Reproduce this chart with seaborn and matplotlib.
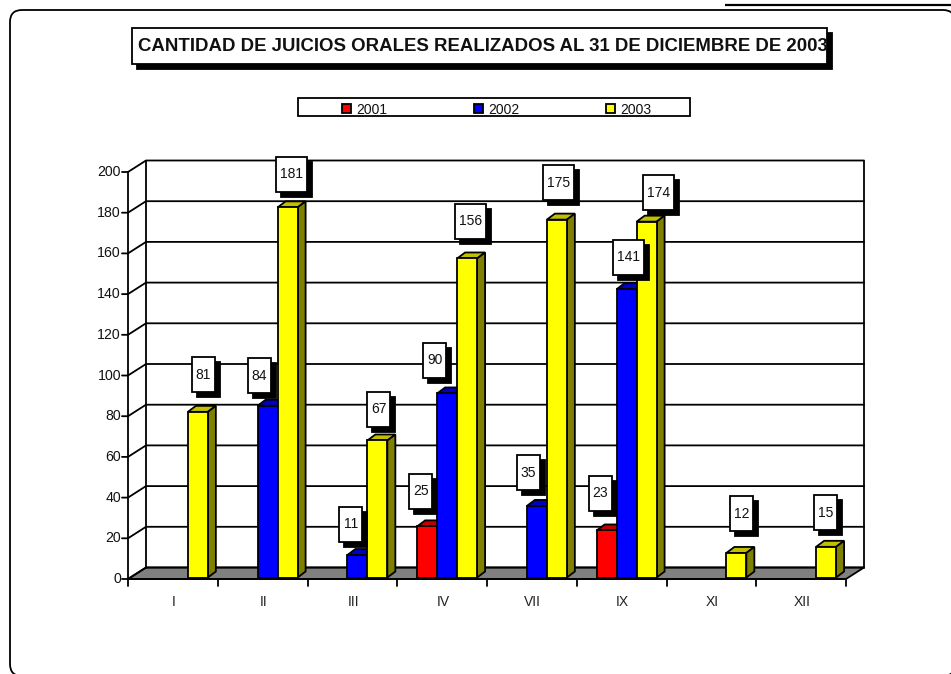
import matplotlib
matplotlib.use("Agg")
import matplotlib.pyplot as plt
from matplotlib.patches import Rectangle, Polygon, FancyBboxPatch
import pandas as pd
import seaborn as sns

# Data
categories = ["I", "II", "III", "IV", "VII", "IX", "XI", "XII"]
years = ["2001", "2002", "2003"]
values_2001 = [None, None, None, 25, None, 23, None, None]
values_2002 = [None, 84, 11, 90, 35, 141, None, None]
values_2003 = [81, 181, 67, 156, 175, 174, 12, 15]
y_ticks = [0, 20, 40, 60, 80, 100, 120, 140, 160, 180, 200]

# Hand placed label boxes: (year, category) -> box centre offset from bar top, in pixels
label_offsets = {
    ("2003", "I"): (5, -37), ("2002", "II"): (-9, -30), ("2003", "II"): (3, -33),
    ("2002", "III"): (-7, -31), ("2003", "III"): (1, -31), ("2001", "IV"): (-7, -35),
    ("2002", "IV"): (-13, -33), ("2003", "IV"): (3, -37), ("2002", "VII"): (-9, -33),
    ("2003", "VII"): (1, -37), ("2001", "IX"): (-7, -37), ("2002", "IX"): (1, -32),
    ("2003", "IX"): (11, -29), ("2003", "XI"): (5, -39), ("2003", "XII"): (-1, -34),
}

front_colors = {"2001": "#FF0000", "2002": "#0000FF", "2003": "#FFFF00"}
top_colors = {"2001": "#C00000", "2002": "#0000C0", "2003": "#C0C000"}
side_colors = {"2001": "#800000", "2002": "#000080", "2003": "#808000"}

W, H = 951, 674
LW = 1.3

# Build the long table, missing bars are just left out
rows = []
for year, vals in zip(years, [values_2001, values_2002, values_2003]):
    for cat, v in zip(categories, vals):
        if v is not None:
            rows.append({"cat": cat, "year": year, "value": v})
df = pd.DataFrame(rows)

sns.set_theme(style="white")
plt.rcParams["font.family"] = ["Liberation Sans", "DejaVu Sans"]

fig = plt.figure(figsize=(W / 100, H / 100), dpi=100, facecolor="white")


def pixel_axes(zorder):
    a = fig.add_axes([0, 0, 1, 1], zorder=zorder)
    a.set_xlim(0, W)
    a.set_ylim(H, 0)
    a.axis("off")
    return a


back = pixel_axes(0)
front = pixel_axes(2)

# Chart axes sit on the front of the floor, bars are 5px right of the category centre
ax = fig.add_axes([133 / W, (H - 577.5) / H, 718 / W, 409 / H], zorder=1)
ax.patch.set_alpha(0)
sns.barplot(data=df, x="cat", y="value", hue="year", order=categories, hue_order=years,
            palette=front_colors, width=0.668, gap=0, dodge=True, saturation=1,
            edgecolor="black", linewidth=LW, legend=False, errorbar=None, ax=ax)
ax.set_xlim(-0.5, len(categories) - 0.5)
ax.set_ylim(0, 200)
ax.axis("off")

# Outer frame runs off the right and bottom of the picture, plus the stray line at the top right
back.add_patch(FancyBboxPatch((10, 10), 945, 666, boxstyle="round,pad=0,rounding_size=12",
                              fc="white", ec="black", lw=LW))
back.plot([725, W], [5, 5], color="black", lw=1.6, solid_capstyle="butt")

# Walls and floor
x0, x1 = 128, 846
dx, dy = 18, -11.5
y_zero, y_scale = 579, 2.035
back.add_patch(Polygon([(x0, y_zero), (x0 + dx, y_zero + dy), (x1 + dx, y_zero + dy), (x1, y_zero)],
                       fc="#808080", ec="black", lw=LW))
for t in y_ticks:
    yf = y_zero - t * y_scale
    back.plot([x0 - 6, x0, x0 + dx, x1 + dx], [yf, yf, yf + dy, yf + dy], color="black", lw=LW)
    back.text(x0 - 7, yf, str(t), ha="right", va="center", fontsize=10.2, color="#111111")
y_top = y_zero - 200 * y_scale
back.plot([x0, x0], [y_zero, y_top], color="black", lw=LW)
back.plot([x0 + dx, x0 + dx], [y_zero + dy, y_top + dy], color="black", lw=LW)
back.plot([x1 + dx, x1 + dx], [y_zero + dy, y_top + dy], color="black", lw=LW)
back.plot([x0, x1], [y_zero, y_zero], color="black", lw=LW)

# Category ticks and labels
step = (x1 - x0) / len(categories)
for i, cat in enumerate(categories):
    back.plot([x0 + i * step] * 2, [y_zero, y_zero + 7], color="black", lw=LW)
    back.text(x0 + (i + 0.5) * step + 1, 602, cat, ha="center", va="center", fontsize=10, color="#222222")
back.plot([x1, x1], [y_zero, y_zero + 7], color="black", lw=LW)

# 3D faces and value labels, taken from the bars seaborn drew
fig.canvas.draw()
bar_dx, bar_dy = 8, -6
hue_bars = []
for container, year in zip(ax.containers, years):
    for bar in container:
        if bar.get_height() > 0:
            cat_i = int(round(bar.get_x() + bar.get_width() / 2))
            hue_bars.append((year, categories[cat_i], bar))

for year, cat, bar in hue_bars:
    (xa, ya), (xb, yb) = ax.transData.transform(
        [(bar.get_x(), bar.get_height()), (bar.get_x() + bar.get_width(), 0)])
    ya, yb = H - ya, H - yb
    back.add_patch(Polygon([(xa, ya), (xa + bar_dx, ya + bar_dy), (xb + bar_dx, ya + bar_dy), (xb, ya)],
                           fc=top_colors[year], ec="black", lw=LW, zorder=5))
    back.add_patch(Polygon([(xb, ya), (xb + bar_dx, ya + bar_dy), (xb + bar_dx, yb + bar_dy), (xb, yb)],
                           fc=side_colors[year], ec="black", lw=LW, zorder=5))

    ox, oy = label_offsets[(year, cat)]
    cx, cy = (xa + xb) / 2 + ox + 0.5, ya + oy
    text = str(int(bar.get_height()))
    bw = 31 if len(text) == 3 else 23
    bh = 35
    front.add_patch(Rectangle((cx - bw / 2 + 5, cy - bh / 2 + 5), bw, bh, fc="black", ec="black", lw=LW))
    front.add_patch(Rectangle((cx - bw / 2, cy - bh / 2), bw, bh, fc="white", ec="black", lw=LW))
    front.text(cx, cy, text, ha="center", va="center", fontsize=10, color="#111111")

# Title box, the text runs into the right edge and gets cut
front.add_patch(Rectangle((137, 33), 695, 36, fc="black", ec="black", lw=LW))
title_box = Rectangle((132, 28), 695, 36, fc="white", ec="black", lw=LW)
front.add_patch(title_box)
title = front.text(138, 46.5, "CANTIDAD DE JUICIOS ORALES REALIZADOS AL 31 DE DICIEMBRE DE 2003",
                   ha="left", va="center", fontsize=13.45, fontweight="bold", color="#111111")
title.set_clip_path(title_box)

# Legend
front.add_patch(Rectangle((298, 98), 392, 18, fc="white", ec="black", lw=LW))
for year, mx, tx in zip(years, [342, 474, 606], [356, 488, 620]):
    front.add_patch(Rectangle((mx, 104), 9, 9, fc=front_colors[year], ec="black", lw=LW))
    front.text(tx, 109.5, year, ha="left", va="center", fontsize=10, color="#111111")

fig.savefig("out.png", dpi=100)
